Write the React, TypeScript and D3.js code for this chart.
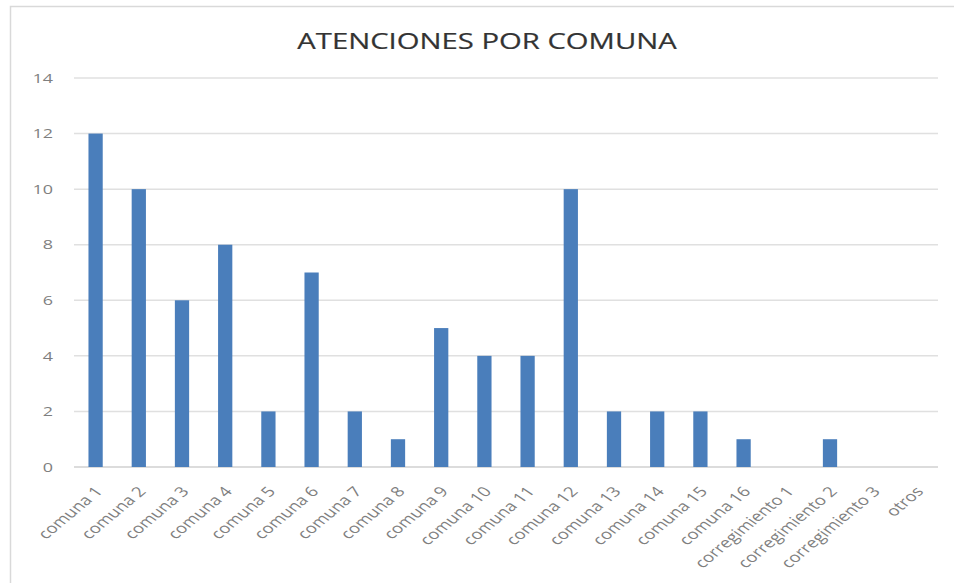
import React from 'react';
import * as d3 from 'd3';

const categories: string[] = [
  'comuna 1', 'comuna 2', 'comuna 3', 'comuna 4', 'comuna 5', 'comuna 6', 'comuna 7', 'comuna 8',
  'comuna 9', 'comuna 10', 'comuna 11', 'comuna 12', 'comuna 13', 'comuna 14', 'comuna 15', 'comuna 16',
  'corregimiento 1', 'corregimiento 2', 'corregimiento 3', 'otros',
];
const atenciones: number[] = [12, 10, 6, 8, 2, 7, 2, 1, 5, 4, 4, 10, 2, 2, 2, 1, 0, 1, 0, 0];
const yTicks: number[] = [0, 2, 4, 6, 8, 10, 12, 14];
const title = 'ATENCIONES POR COMUNA';

const W = 954;
const H = 583;
const plot = { left: 74, right: 938, top: 78, bottom: 467 };
// the source image is stretched sideways, so the text is too
const stretch = 1.33;

const App = () => {
  const x = d3.scaleBand<string>()
    .domain(categories)
    .range([plot.left, plot.right])
    .paddingInner(0.67)
    .paddingOuter(0.335);
  const y = d3.scaleLinear().domain([0, 14]).range([plot.bottom, plot.top]);
  const font = "'Open Sans', 'DejaVu Sans', sans-serif";

  return (
    <svg width={W} height={H} style={{ position: 'absolute', left: 0, top: 0, background: '#fff' }}>
      {/* chart frame */}
      <path d={`M10.5,${H} V6.5 H${W}`} fill="none" stroke="#d9d9d9" strokeWidth={1.5} />
      <text transform={`translate(487,49) scale(${stretch},1)`} textAnchor="middle" fontFamily={font}
        fontSize={22} fill="#333" stroke="#333" strokeWidth={0.2}>{title}</text>
      {yTicks.map(t => (
        <g key={t}>
          <line x1={plot.left} x2={plot.right} y1={y(t)} y2={y(t)}
            stroke={t === 0 ? '#d0d0d0' : '#e0e0e0'} strokeWidth={1.5} />
          <text transform={`translate(53,${y(t)}) scale(${stretch},1)`} dy="0.35em" textAnchor="end"
            fontFamily={font} fontSize={13.5} fill="#7f7f7f">{t}</text>
        </g>
      ))}
      {categories.map((c, i) => (
        <rect key={c} x={x(c)} y={y(atenciones[i])} width={x.bandwidth()}
          height={y(0) - y(atenciones[i])} fill="#4a7ebb" />
      ))}
      {categories.map(c => {
        const cx = (x(c) ?? 0) + x.bandwidth() / 2 + 8;
        return (
          <text key={c} transform={`translate(${cx},${plot.bottom + 25}) scale(${stretch},1) rotate(-48)`}
            textAnchor="end" fontFamily={font} fontSize={14} fill="#7f7f7f">{c}</text>
        );
      })}
    </svg>
  );
};

export default App;
